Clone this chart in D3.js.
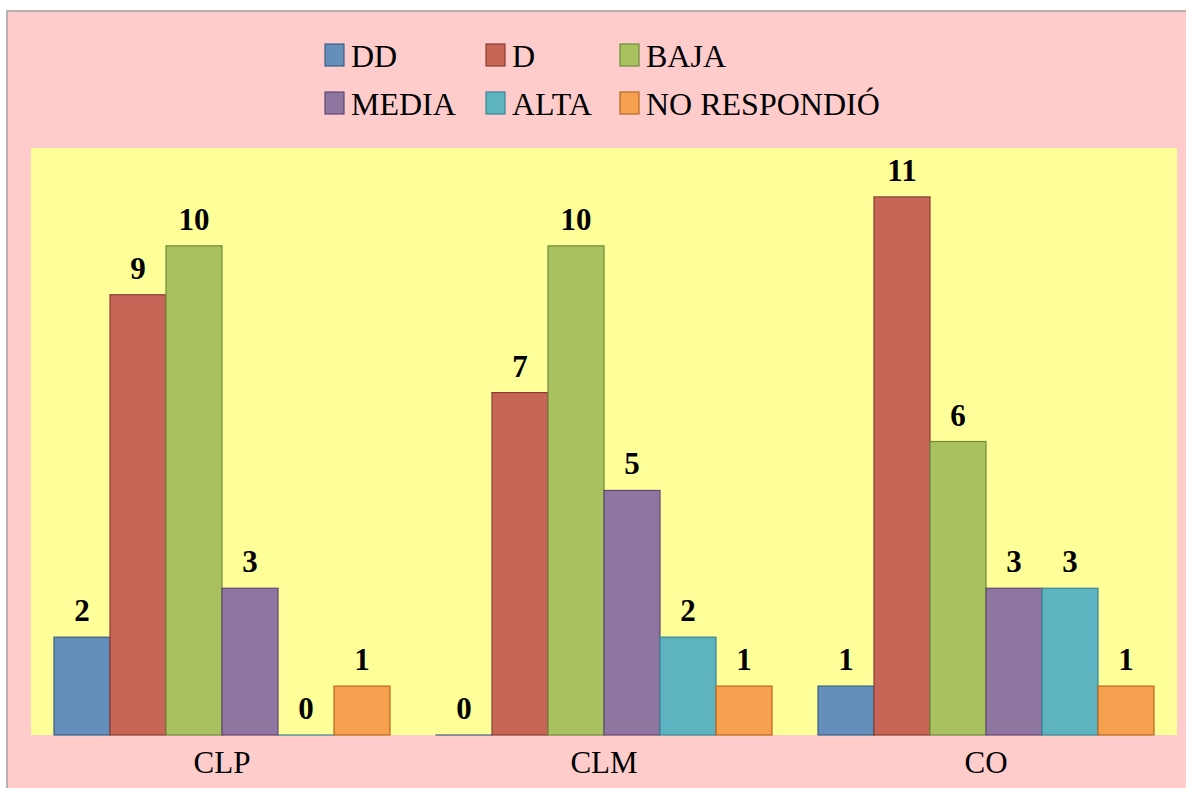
<!DOCTYPE html>
<html>
<head>
<meta charset="utf-8">
<script src="https://cdn.jsdelivr.net/npm/d3@7"></script>
<style>
  html, body { margin: 0; padding: 0; background: #ffffff; }
  svg { display: block; }
</style>
</head>
<body>
<svg id="chart" width="1186" height="788"></svg>
<script>
const categories = ["CLP", "CLM", "CO"];
const seriesNames = ["DD", "D", "BAJA", "MEDIA", "ALTA", "NO RESPONDIÓ"];
const valuesDD = [2, 0, 1];
const valuesD = [9, 7, 11];
const valuesBAJA = [10, 10, 6];
const valuesMEDIA = [3, 5, 3];
const valuesALTA = [0, 2, 3];
const valuesNR = [1, 1, 1];
const seriesValues = [valuesDD, valuesD, valuesBAJA, valuesMEDIA, valuesALTA, valuesNR];
const fills = ["#648FBA", "#C76657", "#A9C25F", "#8F76A0", "#5DB4C0", "#F6A050"];
const strokes = ["#3B5E88", "#8A3C33", "#6E8A3A", "#5E4A72", "#3A8595", "#B8671E"];

const svg = d3.select("#chart");
const W = 1186, H = 788;
const FONT = '"Liberation Serif"';

// outer background
svg.append("rect").attr("x", 7).attr("y", 11).attr("width", W - 7 + 2).attr("height", H - 11 + 2)
  .attr("fill", "#FFCCCC").attr("stroke", "#A0A0A0").attr("stroke-width", 1.5);

const plot = { left: 31, right: 1177, top: 148, bottom: 735 };
svg.append("rect").attr("x", plot.left).attr("y", plot.top)
  .attr("width", plot.right - plot.left).attr("height", plot.bottom - plot.top)
  .attr("fill", "#FFFF99");

const bandStep = (plot.right - plot.left) / categories.length;
const x0b = d3.scaleBand().domain(categories).range([plot.left, plot.right]).padding(0);
const groupInset = 23;
const x1 = d3.scaleBand().domain(seriesNames).range([0, bandStep - 2 * groupInset]).padding(0);
const y = d3.scaleLinear().domain([0, 12]).range([plot.bottom, plot.top]);

const data = [];
categories.forEach((c, ci) => {
  seriesNames.forEach((s, si) => {
    data.push({ cat: c, ser: s, si: si, v: seriesValues[si][ci] });
  });
});

const g = svg.append("g");
g.selectAll("rect.bar").data(data).enter().append("rect")
  .attr("class", "bar")
  .attr("x", d => x0b(d.cat) + groupInset + x1(d.ser))
  .attr("y", d => y(d.v))
  .attr("width", x1.bandwidth())
  .attr("height", d => Math.max(0.01, y(0) - y(d.v)))
  .attr("fill", d => fills[d.si])
  .attr("stroke", d => strokes[d.si])
  .attr("stroke-width", 1.2);

g.selectAll("text.lbl").data(data).enter().append("text")
  .attr("class", "lbl")
  .attr("x", d => x0b(d.cat) + groupInset + x1(d.ser) + x1.bandwidth() / 2)
  .attr("y", d => y(d.v) - 16)
  .attr("text-anchor", "middle")
  .style("font-family", FONT)
  .style("font-weight", "bold")
  .style("font-size", "31px")
  .attr("fill", "#000")
  .text(d => d.v);

// category axis labels
svg.selectAll("text.cat").data(categories).enter().append("text")
  .attr("class", "cat")
  .attr("x", d => x0b(d) + bandStep / 2)
  .attr("y", 773)
  .attr("text-anchor", "middle")
  .style("font-family", FONT)
  .style("font-size", "31px")
  .attr("fill", "#000")
  .text(d => d);

// legend
const legX = [325, 486, 620];
const legY = [67, 115];
const leg = svg.selectAll("g.leg").data(seriesNames).enter().append("g")
  .attr("class", "leg")
  .attr("transform", (d, i) => `translate(${legX[i % 3]},${legY[Math.floor(i / 3)]})`);
leg.append("rect").attr("x", 0).attr("y", -23).attr("width", 19).attr("height", 22)
  .attr("fill", (d, i) => fills[i]).attr("stroke", (d, i) => strokes[i]).attr("stroke-width", 1.2);
leg.append("text")
  .attr("x", 26).attr("y", 0)
  .style("font-family", FONT)
  .style("font-size", "32px")
  .attr("fill", "#000")
  .text(d => d);
</script>
</body>
</html>
